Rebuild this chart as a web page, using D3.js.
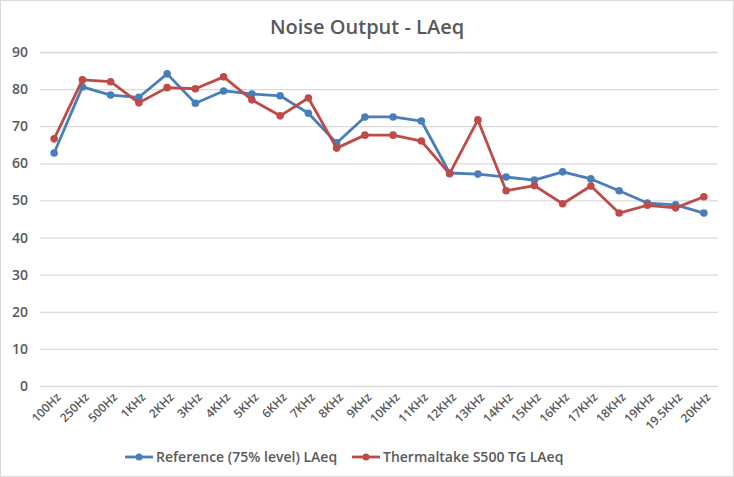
<!DOCTYPE html>
<html><head><meta charset="utf-8">
<script src="https://cdn.jsdelivr.net/npm/d3@7"></script>
<style>html,body{margin:0;padding:0;background:#fff;}svg{display:block;}</style>
</head><body>
<svg id="c" width="734" height="477"></svg>
<script>
const categories = ["100Hz","250Hz","500Hz","1KHz","2KHz","3KHz","4KHz","5KHz","6KHz","7KHz","8KHz","9KHz","10KHz","11KHz","12KHz","13KHz","14KHz","15KHz","16KHz","17KHz","18KHz","19KHz","19.5KHz","20KHz"];
const referenceValues = [62.8,80.6,78.4,77.8,84.1,76.2,79.5,78.7,78.2,73.5,65.5,72.5,72.5,71.4,57.4,57.1,56.3,55.5,57.7,55.8,52.6,49.3,48.8,46.6];
const thermaltakeValues = [66.6,82.5,82.0,76.3,80.4,80.1,83.3,77.1,72.8,77.6,64.1,67.6,67.6,66.0,57.2,71.7,52.6,54.0,49.1,53.9,46.6,48.7,48.0,51.0];
const yTicks = [0,10,20,30,40,50,60,70,80,90];
const seriesNames = ["Reference (75% level) LAeq","Thermaltake S500 TG LAeq"];

const font = "'Open Sans', Carlito, Calibri, sans-serif";
const svg = d3.select("#c");
svg.append("rect").attr("x",0.5).attr("y",0.5).attr("width",733).attr("height",476)
  .attr("fill","#fff").attr("stroke","#d9d9d9");

const plotL = 40, plotR = 718, plotT = 52, plotB = 386;
const x = d3.scalePoint().domain(categories).range([plotL,plotR]).padding(0.5);
const y = d3.scaleLinear().domain([0,90]).range([plotB,plotT]);

svg.append("text").attr("x",367).attr("y",34).attr("text-anchor","middle")
  .attr("font-family",font).attr("font-size",20).attr("font-weight","600")
  .attr("fill","#595959").text("Noise Output - LAeq");

const yAxis = svg.append("g").attr("transform",`translate(${plotL},0)`)
  .call(d3.axisLeft(y).tickValues(yTicks).tickSize(-(plotR-plotL)).tickPadding(12));
yAxis.select(".domain").remove();
yAxis.selectAll("line").attr("stroke","#d9d9d9").attr("stroke-width",1.3);
yAxis.selectAll("text").attr("font-family",font).attr("font-size",14).attr("font-weight","600").attr("fill","#595959");

const xAxis = svg.append("g").attr("transform",`translate(0,${plotB})`)
  .call(d3.axisBottom(x).tickSize(0).tickPadding(0));
xAxis.select(".domain").remove();
xAxis.selectAll("text")
  .attr("font-family",font).attr("font-size",12).attr("font-weight","600").attr("fill","#595959")
  .attr("text-anchor","end").attr("dy",0)
  .attr("transform","translate(7,12) rotate(-45)");

const series = [
  {name: seriesNames[0], values: referenceValues, color: "#4a7ebb"},
  {name: seriesNames[1], values: thermaltakeValues, color: "#be4b48"}
];
const line = d3.line().x((d,i)=>x(categories[i])).y(d=>y(d));
series.forEach(s=>{
  svg.append("path").datum(s.values).attr("d",line).attr("fill","none")
    .attr("stroke",s.color).attr("stroke-width",2.8).attr("stroke-linejoin","round");
  svg.append("g").selectAll("circle").data(s.values).join("circle")
    .attr("cx",(d,i)=>x(categories[i])).attr("cy",d=>y(d)).attr("r",3.8).attr("fill",s.color);
});

// legend
const legendItems = [{x:125, s:series[0]},{x:352, s:series[1]}];
legendItems.forEach(li=>{
  const g = svg.append("g").attr("transform",`translate(${li.x},457)`);
  g.append("line").attr("x1",0).attr("x2",28).attr("stroke",li.s.color).attr("stroke-width",2.8);
  g.append("circle").attr("cx",14).attr("r",3.5).attr("fill",li.s.color);
  g.append("text").attr("x",31).attr("y",5).attr("font-family",font).attr("font-size",14)
    .attr("font-weight","600").attr("fill","#595959").text(li.s.name);
});
</script>
</body></html>
